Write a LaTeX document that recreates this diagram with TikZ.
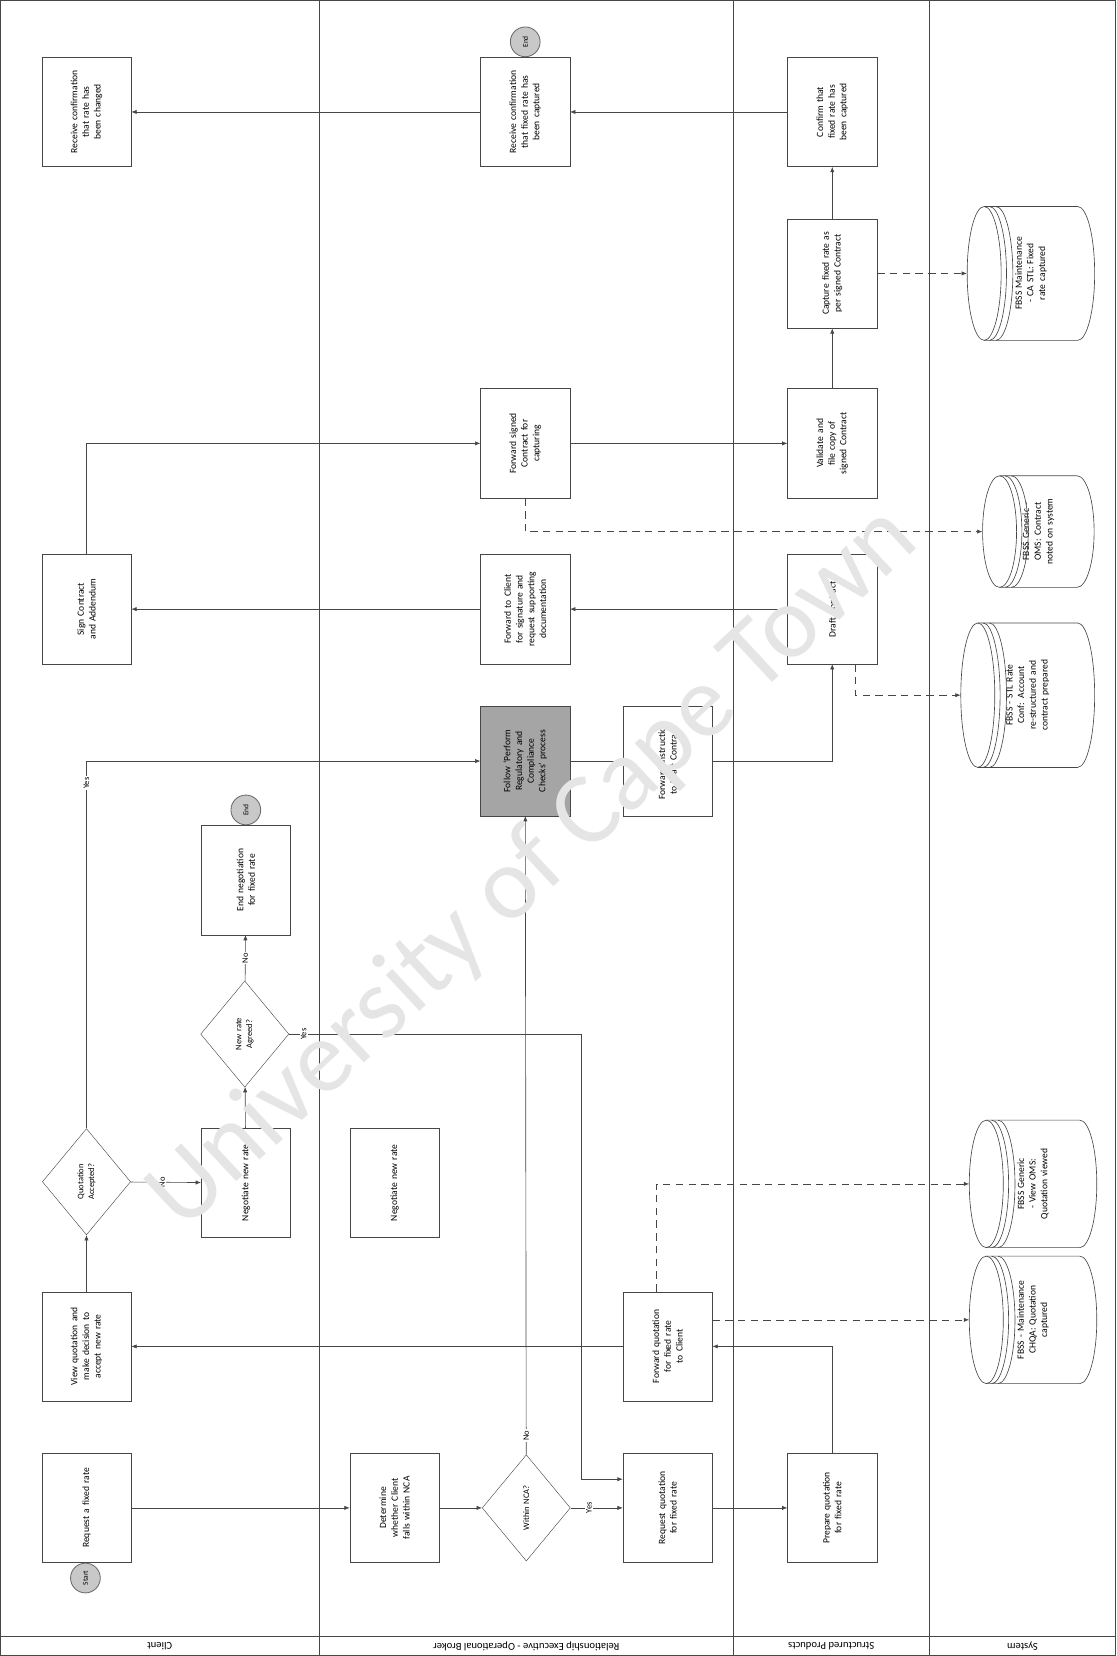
\documentclass[tikz,border=0pt]{standalone}
\usepackage{fontspec}
\setmainfont{Carlito}
\usetikzlibrary{positioning,arrows.meta,shapes.geometric}
\definecolor{lineclr}{RGB}{70,70,70}
\definecolor{taskgrey}{RGB}{165,165,165}
\definecolor{eventgrey}{RGB}{200,200,200}
\hyphenpenalty=10000
\exhyphenpenalty=10000

% stored data: name, x, y, width, height, text
\newcommand{\dbstore}[6]{%
  \node[storetext, minimum width=#5pt, minimum height=#4pt] (#1) at (#2,#3) {#6};
  \draw[store] (#2-#4/2+16,#3+#5/2) -- (#2+#4/2-16,#3+#5/2)
    arc[start angle=90, end angle=-90, x radius=16, y radius=#5/2]
    -- (#2-#4/2+16,#3-#5/2);
  \draw[store] (#2-#4/2+16,#3) ellipse[x radius=16, y radius=#5/2];
  \foreach \s in {5,11}
    \draw[store] (#2-#4/2+16+\s,#3+#5/2) arc[start angle=90, end angle=-90, x radius=16, y radius=#5/2];
}

\begin{document}
\begin{tikzpicture}[
    x=1pt, y=1pt,
    >={Latex[length=5pt,width=4pt]},
    task/.style={draw=lineclr, rotate=90, minimum width=103pt, minimum height=84pt, text width=80pt, align=center, inner sep=2pt, font=\fontsize{9}{11}\selectfont},
    decision/.style={draw=lineclr, diamond, rotate=90, minimum width=100pt, minimum height=83pt, inner sep=0pt, text width=46pt, align=center, font=\fontsize{8}{10}\selectfont},
    event/.style={draw=lineclr!80, circle, fill=eventgrey, thick, rotate=90, minimum size=28pt, inner sep=0pt, font=\fontsize{7}{8}\selectfont},
    storetext/.style={rotate=90, inner sep=0pt, text width=80pt, align=center, font=\fontsize{9}{11}\selectfont},
    store/.style={draw=lineclr, line width=0.6pt},
    flow/.style={->, draw=lineclr, line width=0.6pt},
    dataflow/.style={flow, dash pattern=on 7pt off 5pt},
    lane/.style={draw=lineclr, line width=0.8pt},
    lanetitle/.style={rotate=180, font=\fontsize{10}{12}\selectfont},
    answer/.style={rotate=90, fill=white, inner sep=1pt, font=\fontsize{8}{9}\selectfont}
  ]
  % pool and lanes
  \draw[lane] (8,2) rectangle (1058,1560);
  \draw[lane] (8,20) -- (1058,20);
  \foreach \x in {308,698,882} \draw[lane] (\x,2) -- (\x,1560);
  \node[lanetitle] (tclient) at (158,11) {Client};
  \node[lanetitle] (tre) at (503,11) {Relationship Executive - Operational Broker};
  \node[lanetitle] (tsp) at (790,11) {Structured Products};
  \node[lanetitle] (tsys) at (970,11) {System};

  % Client
  \node[task] (req) at (89,141) {Request a fixed rate};
  \node[event] (start) at (88,75) {Start};
  \node[task] (viewq) at (89,293) {View quotation and make decision to accept new rate};
  \node[decision] (qacc) at (89,448) {Quotation Accepted?};
  \node[task] (negc) at (239,447) {Negotiate new rate};
  \node[decision] (agreed) at (238,587) {New rate Agreed?};
  \node[task] (endneg) at (239,732) {End negotiation for fixed rate};
  \node[event] (endA) at (239,798) {End};
  \node[task] (sign) at (89,987) {Sign Contract and Addendum};
  \node[task] (recvc) at (89,1455) {Receive confirmation that rate has been changed};

  % Relationship Executive
  \node[task] (det) at (379,141) {Determine whether Client falls within NCA};
  \node[decision] (nca) at (503,141) {Within NCA?};
  \node[task] (reqq) at (636,141) {Request quotation for fixed rate};
  \node[task] (fwdq) at (636,293) {Forward quotation for fixed rate to Client};
  \node[task] (negre) at (379,447) {Negotiate new rate};
  \node[task, fill=taskgrey, text width=62pt] (follow) at (502,844) {Follow `Perform Regulatory and Compliance Checks' process};
  \node[task] (fwdi) at (636,844) {Forward instruction to Draft Contract};
  \node[task] (fwdsig) at (502,987) {Forward to Client for signature and request supporting documentation};
  \node[task] (fwdcap) at (502,1143) {Forward signed Contract for capturing};
  \node[task] (recvre) at (502,1455) {Receive confirmation that fixed rate has been captured};
  \node[event] (endB) at (502,1521) {End};

  % Structured Products
  \node[task] (prepq) at (791,141) {Prepare quotation for fixed rate};
  \node[task] (draft) at (791,987) {Draft Contract};
  \node[task] (valid) at (791,1143) {Validate and file copy of signed Contract};
  \node[task] (capt) at (791,1303) {Capture fixed rate as per signed Contract};
  \node[task] (conf) at (791,1455) {Confirm that fixed rate has been captured};

  % System
  \dbstore{dbcap}{980}{318}{120}{120}{FBSS - Maintenance CHQA: Quotation captured}
  \dbstore{dbview}{980}{446}{120}{120}{FBSS Generic - View OMS: Quotation viewed}
  \dbstore{dbrate}{975}{906}{126}{136}{FBSS - STL Rate Conf: Account re-structured and contract prepared}
  \dbstore{dbnote}{985}{1060}{105}{105}{FBSS Generic - OMS: Contract noted on system}
  \dbstore{dbfix}{978}{1303}{120}{126}{FBSS Maintenance - CA STL: Fixed rate captured}

  % sequence
  \draw[flow] (req) -- (det);
  \draw[flow] (det) -- (nca);
  \draw[flow] (nca) -- node[answer, pos=0.35] {Yes} (reqq);
  \draw[flow] (nca) -- node[answer, pos=0.03] {No} (follow);
  \draw[flow] (reqq) -- (prepq);
  \draw[flow] (prepq) |- (fwdq);
  \draw[flow] (fwdq) -- (viewq);
  \draw[flow] (viewq) -- (qacc);
  \draw[flow] (qacc) -- node[answer, pos=0.45] {No} (negc);
  \draw[flow] (qacc) |- node[answer, pos=0.47] {Yes} (follow);
  \draw[flow] (negc) -- (agreed);
  \draw[flow] (agreed) -- node[answer] {No} (endneg);
  \draw[flow] (agreed) -- node[answer, pos=0.05] {Yes} (555,587) |- ([yshift=27pt]reqq.north);
  \draw[flow] (follow) -- (fwdi);
  \draw[flow] (fwdi) -| (draft);
  \draw[flow] (draft) -- (fwdsig);
  \draw[flow] (fwdsig) -- (sign);
  \draw[flow] (sign) |- (fwdcap);
  \draw[flow] (fwdcap) -- (valid);
  \draw[flow] (valid) -- (capt);
  \draw[flow] (capt) -- (conf);
  \draw[flow] (conf) -- (recvre);
  \draw[flow] (recvre) -- (recvc);

  % system updates
  \draw[dataflow] (fwdq.south |- dbcap) -- (dbcap);
  \draw[dataflow] ([xshift=-11pt]fwdq.east) |- (dbview);
  \draw[dataflow] ([xshift=22pt]draft.west) |- (dbrate);
  \draw[dataflow] (fwdcap) |- (dbnote);
  \draw[dataflow] (capt) -- (dbfix);

  \node[rotate=43, text=black!10, font=\fontsize{97}{99}\selectfont] (mark) at (510,743) {University of Cape Town};
\end{tikzpicture}
\end{document}
